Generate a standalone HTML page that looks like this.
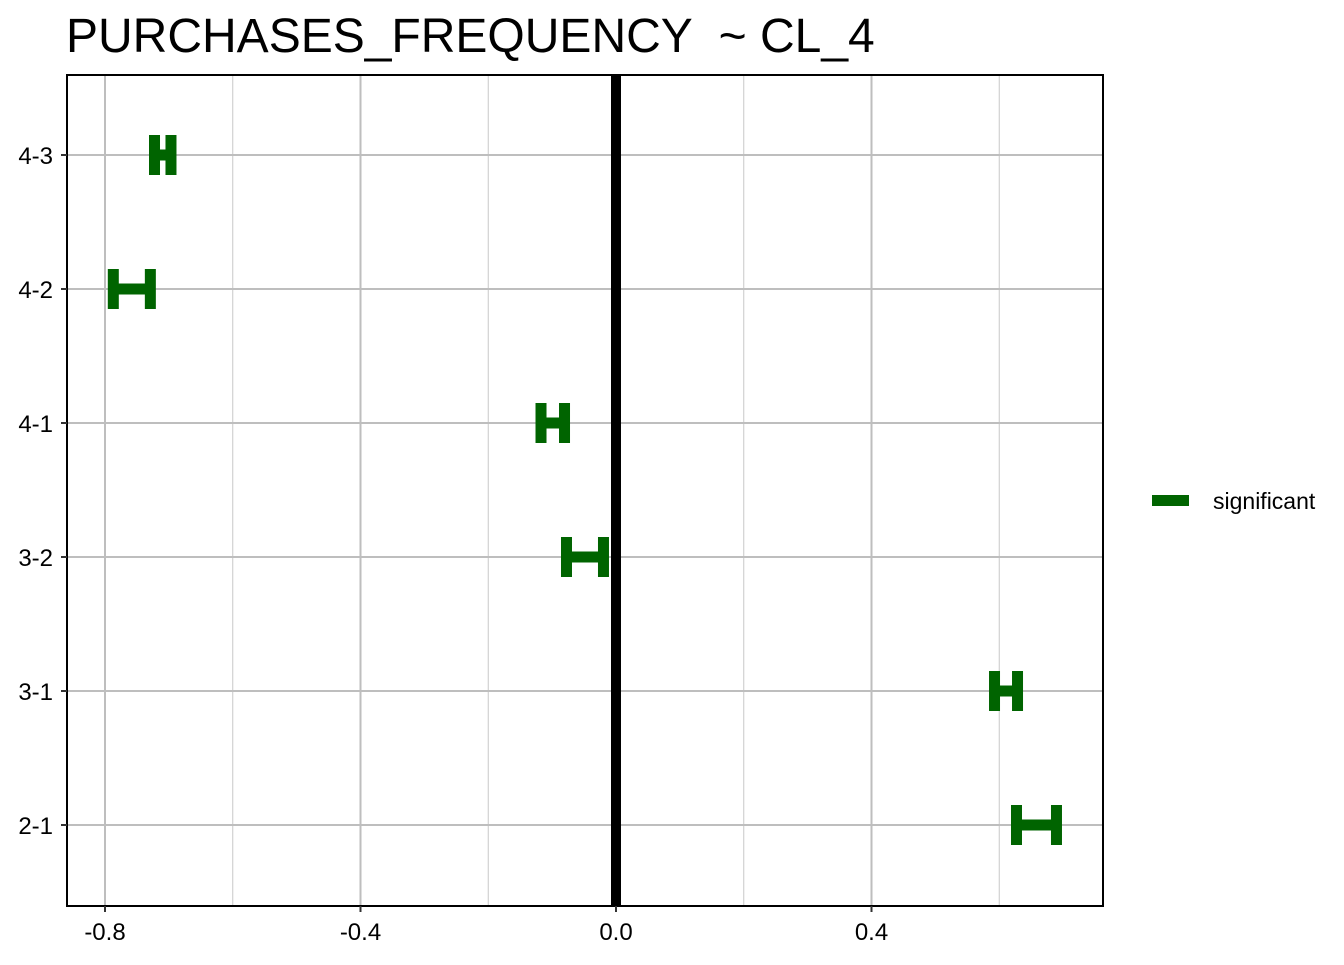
<!DOCTYPE html>
<html><head><meta charset="utf-8"><style>
body{margin:0;background:#fff;}
text{font-family:"Liberation Sans",Arial,sans-serif;}
</style></head><body>
<svg id="chart" width="1344" height="960" xmlns="http://www.w3.org/2000/svg">
<text x="66" y="52" font-size="48" fill="#000" style="white-space:pre">PURCHASES_FREQUENCY  ~ CL_4</text>
<g id="grid"></g>
<g id="marks"></g>
<rect x="67" y="75" width="1036" height="831" fill="none" stroke="#000" stroke-width="2"/>
<g id="axes"></g>
<g>
<rect x="1152" y="495" width="37" height="11" fill="#006400"/>
<text x="1213" y="509" font-size="23" fill="#000">significant</text>
</g>
</svg>
<script>
const categories=["4-3","4-2","4-1","3-2","3-1","2-1"];
const lowerValues=[-0.7225,-0.787,-0.1174,-0.0775,0.5926,0.627];
const upperValues=[-0.6967,-0.729,-0.0806,-0.0196,0.6286,0.6896];
const majorTicks=[-0.8,-0.4,0.0,0.4];
const tickLabels=["-0.8","-0.4","0.0","0.4"];
const minorTicks=[-0.6,-0.2,0.2,0.6];
const NS="http://www.w3.org/2000/svg";
const x=v=>616+v*638.75;
const y=i=>155+i*134;
const L=67,R=1103,T=75,B=906;
function mk(t,a,p){const e=document.createElementNS(NS,t);for(const k in a)e.setAttribute(k,a[k]);p.appendChild(e);return e;}
const grid=document.getElementById('grid'),marks=document.getElementById('marks'),axes=document.getElementById('axes');
minorTicks.forEach(v=>{const e=mk('line',{x1:x(v),x2:x(v),y1:T,y2:B,stroke:'#c8c8c8','stroke-width':1},grid);

});
majorTicks.forEach((v,i)=>{const e=mk('line',{x1:x(v),x2:x(v),y1:T,y2:B,stroke:'#bebebe','stroke-width':2},grid);


const tk=mk('line',{x1:x(v),x2:x(v),y1:B,y2:B+6,stroke:'#333','stroke-width':2},axes);


const t=mk('text',{x:x(v),y:940,'font-size':24,'text-anchor':'middle',fill:'#000'},axes);t.textContent=tickLabels[i];

});
categories.forEach((c,i)=>{const e=mk('line',{x1:L,x2:R,y1:y(i),y2:y(i),stroke:'#bebebe','stroke-width':2},grid);


const tk=mk('line',{x1:L-6,x2:L,y1:y(i),y2:y(i),stroke:'#333','stroke-width':2},axes);


const t=mk('text',{x:53,y:y(i)+9,'font-size':24,'text-anchor':'end',fill:'#000'},axes);t.textContent=c;

});
const z=mk('line',{x1:x(0),x2:x(0),y1:T,y2:B,stroke:'#000','stroke-width':10},marks);


categories.forEach((c,i)=>{const g=mk('g',{fill:'none',stroke:'#006400','stroke-width':11},marks);


const a=x(lowerValues[i]),b=x(upperValues[i]),yy=y(i);
mk('line',{x1:a,x2:b,y1:yy,y2:yy},g);
mk('line',{x1:a,x2:a,y1:yy-20,y2:yy+20},g);
mk('line',{x1:b,x2:b,y1:yy-20,y2:yy+20},g);});
</script>
</body></html>
